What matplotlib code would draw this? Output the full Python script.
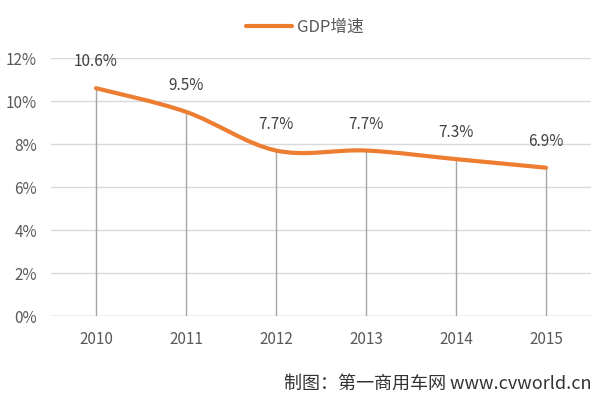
import matplotlib.pyplot as plt
from matplotlib.path import Path
from matplotlib.patches import PathPatch
from matplotlib.lines import Line2D

plt.rcParams['font.family'] = ['Noto Sans CJK SC', 'DejaVu Sans']

years = ['2010', '2011', '2012', '2013', '2014', '2015']
gdp = [10.6, 9.5, 7.7, 7.7, 7.3, 6.9]
labels = ['10.6%', '9.5%', '7.7%', '7.7%', '7.3%', '6.9%']
yticks = [0, 2, 4, 6, 8, 10, 12]

orange = '#ED7D31'

fig = plt.figure(figsize=(6, 3.98), dpi=100)
ax = fig.add_axes([0.085, 0.206, 0.9, 0.648])

x = list(range(len(years)))

# smooth line like excel (bezier with 1/6 control points)
verts = [(x[0], gdp[0])]
codes = [Path.MOVETO]
n = len(x)
for i in range(n - 1):
    p0 = (x[max(i - 1, 0)], gdp[max(i - 1, 0)])
    p1 = (x[i], gdp[i])
    p2 = (x[i + 1], gdp[i + 1])
    p3 = (x[min(i + 2, n - 1)], gdp[min(i + 2, n - 1)])
    c1 = (p1[0] + (p2[0] - p0[0]) / 6, p1[1] + (p2[1] - p0[1]) / 6)
    c2 = (p2[0] - (p3[0] - p1[0]) / 6, p2[1] - (p3[1] - p1[1]) / 6)
    verts += [c1, c2, p2]
    codes += [Path.CURVE4] * 3
ax.add_patch(PathPatch(Path(verts, codes), facecolor='none', edgecolor=orange,
                       lw=3, capstyle='round', joinstyle='round', zorder=4))

ax.vlines(x, 0, gdp, color='#A6A6A6', lw=1, zorder=3)

for xi, yi, lab in zip(x, gdp, labels):
    ax.annotate(lab, (xi, yi), xytext=(0, 19), textcoords='offset points',
                ha='center', va='center', fontsize=11, color='#404040')

ax.set_xlim(-0.5, 5.5)
ax.set_ylim(0, 12)
ax.set_yticks(yticks)
ax.set_yticklabels([f'{v}%' for v in yticks])
ax.set_xticks(x)
ax.set_xticklabels(years)
ax.grid(axis='y', color='#D9D9D9', lw=1)
ax.set_axisbelow(True)
for s in ax.spines.values():
    s.set_visible(False)
ax.axhline(0, color='#D0D0D0', lw=1, zorder=2)
ax.tick_params(length=0, labelsize=11, colors='#595959')
ax.tick_params(axis='x', pad=11)
ax.tick_params(axis='y', pad=10)

handle = Line2D([], [], color=orange, lw=3, solid_capstyle='round')
fig.legend([handle], ['GDP增速'], loc='center', bbox_to_anchor=(0.508, 0.932),
           frameon=False, fontsize=12, handlelength=2.8, handletextpad=0.3,
           labelcolor='#595959')

fig.text(0.985, 0.036, '制图：第一商用车网 www.cvworld.cn', ha='right', va='center',
         fontsize=13, color='#333333')

fig.savefig('out.png', dpi=100)
